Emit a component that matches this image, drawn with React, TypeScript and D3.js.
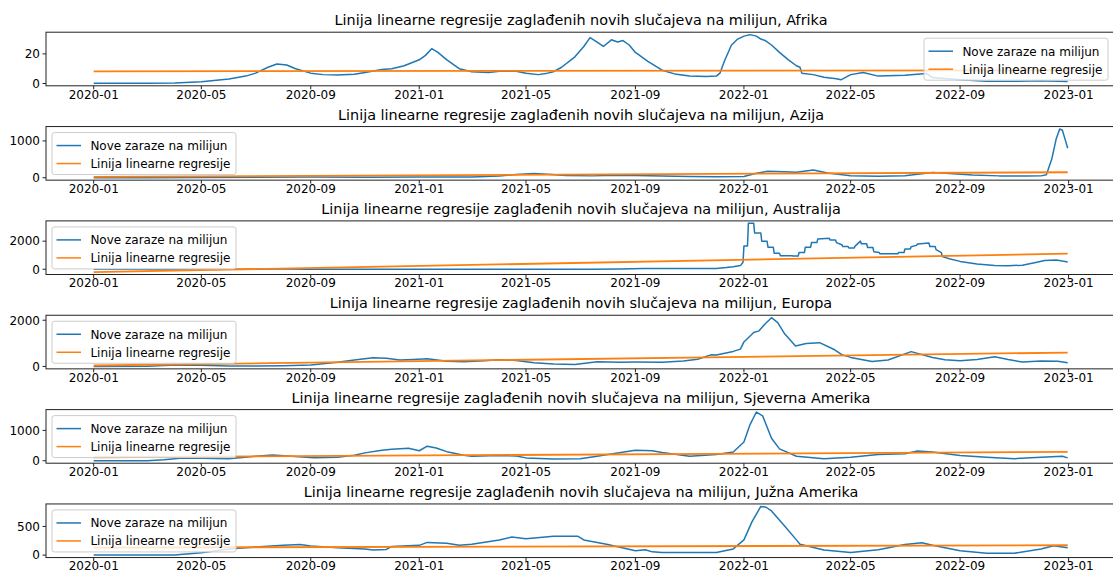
import React from 'react';
import * as d3 from 'd3';

type Point = [string, number];

const continents = ['Afrika', 'Azija', 'Australija', 'Europa', 'Sjeverna Amerika', 'Južna Amerika'];

const afrika: Point[] = [
  ['2020-01-01', 0.1], ['2020-02-01', 0.1], ['2020-03-01', 0.1], ['2020-04-01', 0.4], ['2020-05-01', 1.2],
  ['2020-06-01', 3], ['2020-06-20', 5], ['2020-07-01', 7], ['2020-07-15', 11], ['2020-07-25', 13.2],
  ['2020-08-05', 12.5], ['2020-08-15', 10], ['2020-09-01', 7], ['2020-09-15', 6], ['2020-10-01', 5.8],
  ['2020-10-20', 6.2], ['2020-11-01', 7.5], ['2020-11-20', 9.5], ['2020-12-01', 10], ['2020-12-15', 12],
  ['2021-01-01', 16], ['2021-01-08', 19], ['2021-01-15', 23.5], ['2021-01-22', 21], ['2021-02-01', 16],
  ['2021-02-15', 10], ['2021-03-01', 8], ['2021-03-20', 7.5], ['2021-04-01', 8.3], ['2021-04-20', 8.3],
  ['2021-05-01', 7], ['2021-05-15', 6], ['2021-05-25', 7], ['2021-06-01', 8], ['2021-06-10', 11],
  ['2021-06-25', 18], ['2021-07-05', 25], ['2021-07-12', 31], ['2021-07-20', 28], ['2021-07-27', 25],
  ['2021-08-05', 29.5], ['2021-08-12', 28], ['2021-08-18', 29], ['2021-08-25', 26], ['2021-09-01', 21],
  ['2021-09-15', 15], ['2021-10-01', 9], ['2021-10-15', 6.5], ['2021-11-01', 5], ['2021-11-20', 4.8],
  ['2021-12-01', 5], ['2021-12-05', 7], ['2021-12-10', 15], ['2021-12-18', 26], ['2021-12-25', 30],
  ['2022-01-01', 32], ['2022-01-08', 33], ['2022-01-15', 32], ['2022-01-20', 30], ['2022-01-25', 29],
  ['2022-02-01', 26], ['2022-02-10', 21], ['2022-02-20', 16], ['2022-03-01', 12], ['2022-03-05', 11],
  ['2022-03-07', 7], ['2022-03-20', 6], ['2022-04-01', 4.2], ['2022-04-15', 3.2], ['2022-04-20', 2.5],
  ['2022-05-01', 6], ['2022-05-15', 7.5], ['2022-06-01', 5], ['2022-07-01', 5.5], ['2022-07-25', 6.8],
  ['2022-08-01', 4], ['2022-09-01', 2.5], ['2022-10-01', 1.6], ['2022-11-01', 1.5], ['2022-12-01', 1.8],
  ['2022-12-31', 1.4],
];

const azija: Point[] = [
  ['2020-01-01', 0], ['2020-03-01', 1], ['2020-05-01', 5], ['2020-07-01', 10], ['2020-09-01', 18],
  ['2020-11-01', 14], ['2021-01-01', 18], ['2021-03-01', 20], ['2021-04-01', 45], ['2021-04-20', 90],
  ['2021-05-10', 115], ['2021-05-25', 95], ['2021-06-15', 60], ['2021-07-15', 50], ['2021-08-10', 68],
  ['2021-09-01', 62], ['2021-10-01', 45], ['2021-11-01', 32], ['2021-12-01', 28], ['2022-01-01', 35],
  ['2022-01-15', 120], ['2022-01-28', 175], ['2022-02-15', 165], ['2022-03-01', 150], ['2022-03-20', 210],
  ['2022-04-05', 130], ['2022-05-01', 55], ['2022-06-01', 40], ['2022-07-01', 55], ['2022-08-01', 140],
  ['2022-08-20', 115], ['2022-09-15', 75], ['2022-10-15', 50], ['2022-11-15', 48], ['2022-12-01', 50],
  ['2022-12-07', 80], ['2022-12-13', 500], ['2022-12-18', 1050], ['2022-12-22', 1325], ['2022-12-25', 1290],
  ['2022-12-28', 1050], ['2022-12-31', 800],
];

const australija: Point[] = [
  ['2020-01-01', 0], ['2020-03-15', 5], ['2020-03-28', 16], ['2020-04-20', 3], ['2020-06-15', 1],
  ['2020-07-15', 12], ['2020-08-05', 22], ['2020-09-01', 6], ['2020-10-01', 1], ['2021-06-01', 1],
  ['2021-07-15', 5], ['2021-08-15', 25], ['2021-09-10', 55], ['2021-10-15', 62], ['2021-11-15', 45],
  ['2021-12-01', 55], ['2021-12-12', 120], ['2021-12-20', 180], ['2021-12-28', 260], ['2021-12-31', 500],
  ['2022-01-01', 1650], ['2022-01-05', 1650], ['2022-01-06', 3270], ['2022-01-12', 3270], ['2022-01-13', 2580],
  ['2022-01-20', 2580], ['2022-01-21', 2000], ['2022-01-27', 2000], ['2022-01-28', 1570], ['2022-02-03', 1570],
  ['2022-02-04', 1140], ['2022-02-10', 1140], ['2022-02-11', 960], ['2022-02-24', 960], ['2022-02-25', 940],
  ['2022-03-03', 940], ['2022-03-04', 1190], ['2022-03-10', 1190], ['2022-03-11', 1570], ['2022-03-17', 1570],
  ['2022-03-18', 1900], ['2022-03-24', 1900], ['2022-03-25', 2150], ['2022-04-07', 2200], ['2022-04-08', 2080],
  ['2022-04-14', 2080], ['2022-04-15', 1900], ['2022-04-21', 1750], ['2022-04-22', 1620], ['2022-04-28', 1620],
  ['2022-04-29', 1520], ['2022-05-05', 1520], ['2022-05-06', 1650], ['2022-05-12', 2000], ['2022-05-13', 1820],
  ['2022-05-19', 1820], ['2022-05-20', 1550], ['2022-05-26', 1550], ['2022-05-27', 1250], ['2022-06-02', 1190],
  ['2022-06-03', 1110], ['2022-06-23', 1110], ['2022-06-24', 1190], ['2022-06-30', 1190], ['2022-07-01', 1440],
  ['2022-07-07', 1440], ['2022-07-08', 1600], ['2022-07-14', 1700], ['2022-07-15', 1800], ['2022-07-28', 1870],
  ['2022-07-29', 1620], ['2022-08-04', 1620], ['2022-08-05', 1400], ['2022-08-11', 1190], ['2022-08-12', 900],
  ['2022-08-20', 750], ['2022-09-01', 560], ['2022-09-20', 380], ['2022-10-10', 270], ['2022-10-25', 250],
  ['2022-11-10', 290], ['2022-11-25', 480], ['2022-12-05', 620], ['2022-12-18', 660], ['2022-12-25', 580],
  ['2022-12-31', 520],
];

const europa: Point[] = [
  ['2020-01-01', 0], ['2020-03-01', 5], ['2020-03-20', 40], ['2020-04-05', 65], ['2020-05-01', 45],
  ['2020-06-01', 20], ['2020-07-01', 20], ['2020-08-01', 30], ['2020-09-01', 60], ['2020-10-01', 180],
  ['2020-10-20', 280], ['2020-11-10', 380], ['2020-11-25', 350], ['2020-12-10', 280], ['2020-12-25', 300],
  ['2021-01-10', 330], ['2021-02-01', 220], ['2021-02-20', 200], ['2021-03-15', 250], ['2021-04-01', 290],
  ['2021-04-20', 260], ['2021-05-10', 160], ['2021-06-01', 100], ['2021-06-25', 85], ['2021-07-20', 200],
  ['2021-08-15', 185], ['2021-09-01', 190], ['2021-10-01', 175], ['2021-10-25', 230], ['2021-11-10', 310],
  ['2021-11-25', 500], ['2021-12-01', 495], ['2021-12-20', 650], ['2021-12-28', 750], ['2022-01-01', 1060],
  ['2022-01-12', 1470], ['2022-01-18', 1540], ['2022-01-25', 1850], ['2022-02-01', 2110], ['2022-02-08', 1900],
  ['2022-02-16', 1400], ['2022-02-28', 880], ['2022-03-12', 990], ['2022-03-27', 1030], ['2022-04-13', 720],
  ['2022-04-21', 510], ['2022-05-01', 390], ['2022-05-25', 210], ['2022-06-12', 280], ['2022-07-08', 640],
  ['2022-08-01', 390], ['2022-08-15', 290], ['2022-09-01', 250], ['2022-09-20', 300], ['2022-10-10', 420],
  ['2022-10-25', 300], ['2022-11-10', 190], ['2022-12-01', 235], ['2022-12-20', 220], ['2022-12-31', 160],
];

const sjevernaAmerika: Point[] = [
  ['2020-01-01', 0], ['2020-03-01', 1], ['2020-03-20', 30], ['2020-04-10', 90], ['2020-05-01', 80],
  ['2020-06-01', 65], ['2020-07-01', 150], ['2020-07-20', 190], ['2020-08-10', 150], ['2020-09-05', 100],
  ['2020-10-01', 115], ['2020-10-20', 180], ['2020-11-01', 260], ['2020-11-20', 350], ['2020-12-01', 380],
  ['2020-12-20', 410], ['2021-01-01', 330], ['2021-01-10', 480], ['2021-01-20', 420], ['2021-02-01', 300],
  ['2021-02-20', 180], ['2021-03-01', 150], ['2021-04-01', 175], ['2021-04-20', 160], ['2021-05-01', 95],
  ['2021-06-01', 60], ['2021-07-01', 65], ['2021-07-20', 150], ['2021-08-01', 210], ['2021-09-01', 350],
  ['2021-09-20', 330], ['2021-10-01', 270], ['2021-11-01', 150], ['2021-12-01', 210], ['2021-12-20', 290],
  ['2022-01-01', 620], ['2022-01-08', 1200], ['2022-01-15', 1605], ['2022-01-22', 1480], ['2022-02-01', 740],
  ['2022-02-10', 390], ['2022-03-01', 150], ['2022-04-01', 70], ['2022-05-01', 115], ['2022-06-01', 210],
  ['2022-07-01', 230], ['2022-07-15', 325], ['2022-08-01', 290], ['2022-09-01', 175], ['2022-10-01', 115],
  ['2022-11-01', 70], ['2022-12-01', 115], ['2022-12-25', 150], ['2022-12-31', 95],
];

const juznaAmerika: Point[] = [
  ['2020-01-01', 0], ['2020-04-01', 2], ['2020-05-01', 40], ['2020-06-01', 105], ['2020-07-01', 140],
  ['2020-08-01', 170], ['2020-08-20', 185], ['2020-09-01', 160], ['2020-10-01', 128], ['2020-11-01', 108],
  ['2020-11-10', 90], ['2020-11-25', 100], ['2020-12-01', 150], ['2021-01-01', 170], ['2021-01-10', 222],
  ['2021-02-01', 205], ['2021-02-15', 172], ['2021-03-01', 190], ['2021-04-01', 265], ['2021-04-15', 315],
  ['2021-05-01', 285], ['2021-06-01', 330], ['2021-06-28', 330], ['2021-07-05', 265], ['2021-08-01', 185],
  ['2021-09-01', 76], ['2021-09-12', 95], ['2021-09-20', 57], ['2021-10-01', 44], ['2021-12-01', 44],
  ['2021-12-20', 108], ['2022-01-01', 266], ['2022-01-10', 580], ['2022-01-20', 850], ['2022-01-26', 835],
  ['2022-02-01', 770], ['2022-02-15', 520], ['2022-03-01', 266], ['2022-03-05', 190], ['2022-04-01', 90],
  ['2022-05-01', 44], ['2022-06-01', 95], ['2022-07-01', 185], ['2022-07-20', 215], ['2022-08-01', 172],
  ['2022-09-01', 76], ['2022-10-01', 33], ['2022-11-01', 33], ['2022-12-01', 108], ['2022-12-15', 165],
  ['2022-12-31', 127],
];

const series = [afrika, azija, australija, europa, sjevernaAmerika, juznaAmerika];

// regression line endpoints (first and last day)
const regressionStart = [8.2, 25, -200, 40, 116, 130];
const regressionEnd = [8.9, 148, 1110, 600, 291, 172];
const regressionDays = ['2020-01-01', '2022-12-31'];

const yTickValues = [[0, 20], [0, 1000], [0, 2000], [0, 2000], [0, 1000], [0, 500]];
const xTickLabels = ['2020-01', '2020-05', '2020-09', '2021-01', '2021-05', '2021-09', '2022-01', '2022-05', '2022-09', '2023-01'];
const legendLabels = ['Nove zaraze na milijun', 'Linija linearne regresije'];

const WIDTH = 1113;
const HEIGHT = 572;
const FONT = 'DejaVu Sans, sans-serif';
const BLUE = '#1f77b4';
const ORANGE = '#ff7f0e';

const parseDay = d3.timeParse('%Y-%m-%d');
const parseMonth = d3.timeParse('%Y-%m');

const frameLeft = 46;
const frameRight = 1116;
const panelTop0 = 32.2;
const panelStep = 94.35;
const panelHeight = 53.6;

const x = d3.scaleTime()
  .domain([parseDay('2020-01-01') as Date, parseDay('2023-01-01') as Date])
  .range([93.7, 1068.6]);

const Panel = ({ idx }: { idx: number }) => {
  const data = series[idx];
  const top = panelTop0 + idx * panelStep;
  const bottom = top + panelHeight;
  const reg: Point[] = [[regressionDays[0], regressionStart[idx]], [regressionDays[1], regressionEnd[idx]]];

  const all = [...data.map(d => d[1]), regressionStart[idx], regressionEnd[idx]];
  const lo = d3.min(all) as number;
  const hi = d3.max(all) as number;
  const pad = (hi - lo) * 0.05;
  const y = d3.scaleLinear().domain([lo - pad, hi + pad]).range([bottom, top]);

  const line = d3.line<Point>()
    .x(d => x(parseDay(d[0]) as Date))
    .y(d => y(d[1]));

  const legendW = 184;
  const legendH = 42;
  const legendX = idx === 0 ? frameRight - 8 - legendW : frameLeft + 6;
  const legendY = top + 6;

  return (
    <g>
      <text x={(frameLeft + frameRight) / 2} y={top - 7} textAnchor="middle" fontSize={14.4} fontFamily={FONT} fill="#000">
        {`Linija linearne regresije zaglađenih novih slučajeva na milijun, ${continents[idx]}`}
      </text>
      <path d={line(data) || ''} fill="none" stroke={BLUE} strokeWidth={1.5} strokeLinejoin="round" />
      <path d={line(reg) || ''} fill="none" stroke={ORANGE} strokeWidth={1.8} />
      <rect x={frameLeft} y={top} width={frameRight - frameLeft} height={panelHeight} fill="none" stroke="#222" strokeWidth={1} />
      {yTickValues[idx].map(v => (
        <g key={v} transform={`translate(${frameLeft},${y(v)})`}>
          <line x1={-3.5} x2={0} stroke="#222" strokeWidth={1} />
          <text x={-6} dy="0.36em" textAnchor="end" fontSize={12} fontFamily={FONT} fill="#000">{v}</text>
        </g>
      ))}
      {xTickLabels.map(t => {
        const px = x(parseMonth(t) as Date);
        return (
          <g key={t} transform={`translate(${px},${bottom})`}>
            <line y1={0} y2={3.5} stroke="#222" strokeWidth={1} />
            <text y={12.8} textAnchor="middle" fontSize={12} fontFamily={FONT} fill="#000">{t}</text>
          </g>
        );
      })}
      <g transform={`translate(${legendX},${legendY})`}>
        <rect width={legendW} height={legendH} rx={2.5} fill="#fff" fillOpacity={0.8} stroke="#ccc" strokeWidth={1} />
        {legendLabels.map((lab, i) => (
          <g key={lab} transform={`translate(0,${13 + i * 18})`}>
            <line x1={4.5} x2={29} stroke={i === 0 ? BLUE : ORANGE} strokeWidth={1.5} />
            <text x={38.4} dy="0.36em" fontSize={12} fontFamily={FONT} fill="#000">{lab}</text>
          </g>
        ))}
      </g>
    </g>
  );
};

export default function App() {
  return (
    <svg width={WIDTH} height={HEIGHT} style={{ position: 'absolute', left: 0, top: 0, background: '#fff' }}>
      <rect width={WIDTH} height={HEIGHT} fill="#fff" />
      {continents.map((c, i) => <Panel key={c} idx={i} />)}
    </svg>
  );
}
